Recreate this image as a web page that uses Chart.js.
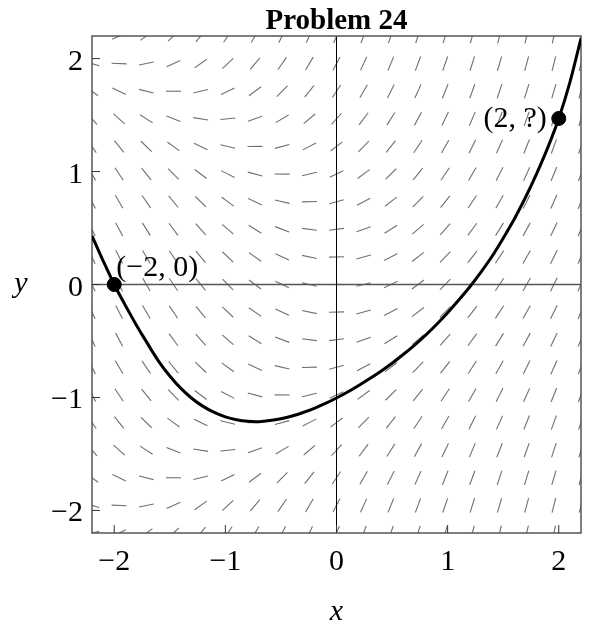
<!DOCTYPE html>
<html>
<head>
<meta charset="utf-8">
<script src="https://cdn.jsdelivr.net/npm/chart.js@4.4.1/dist/chart.umd.min.js"></script>
<style>
    html, body { margin: 0; padding: 0; background: #fff; }
    #wrap { width: 589px; height: 627px; }
</style>
</head>
<body>
<div id="wrap"><canvas id="grafico" width="589" height="627"></canvas></div>
<script>
const titulo = "Problem 24";
const xTicks = [-2, -1, 0, 1, 2];
const yTicks = [-2, -1, 0, 1, 2];

// centros de las rayitas del campo de pendientes
const xGrid = [-2.2, -1.956, -1.711, -1.467, -1.222, -0.978, -0.733, -0.489, -0.244, 0, 0.244, 0.489, 0.733, 0.978, 1.222, 1.467, 1.711, 1.956, 2.2];
const yGrid = [2.2, 1.956, 1.711, 1.467, 1.222, 0.978, 0.733, 0.489, 0.244, 0, -0.244, -0.489, -0.733, -0.978, -1.222, -1.467, -1.711, -1.956, -2.2];

// pendiente de cada rayita, fila por fila de arriba hacia abajo
const pendientes = [
    [0.22, 0.46, 0.71, 0.95, 1.20, 1.44, 1.69, 1.93, 2.18, 2.42, 2.66, 2.91, 3.15, 3.40, 3.64, 3.89, 4.13, 4.38, 4.62],
    [-0.29, -0.04, 0.20, 0.45, 0.69, 0.93, 1.18, 1.42, 1.67, 1.91, 2.16, 2.40, 2.65, 2.89, 3.13, 3.38, 3.62, 3.87, 4.11],
    [-0.74, -0.49, -0.25, 0.00, 0.24, 0.49, 0.73, 0.98, 1.22, 1.46, 1.71, 1.95, 2.20, 2.44, 2.69, 2.93, 3.18, 3.42, 3.66],
    [-1.12, -0.88, -0.64, -0.39, -0.15, 0.10, 0.34, 0.59, 0.83, 1.08, 1.32, 1.56, 1.81, 2.05, 2.30, 2.54, 2.79, 3.03, 3.28],
    [-1.45, -1.21, -0.96, -0.72, -0.48, -0.23, 0.01, 0.26, 0.50, 0.75, 0.99, 1.24, 1.48, 1.72, 1.97, 2.21, 2.46, 2.70, 2.95],
    [-1.72, -1.48, -1.23, -0.99, -0.74, -0.50, -0.26, -0.01, 0.23, 0.48, 0.72, 0.97, 1.21, 1.46, 1.70, 1.94, 2.19, 2.43, 2.68],
    [-1.93, -1.69, -1.44, -1.20, -0.95, -0.71, -0.46, -0.22, 0.02, 0.27, 0.51, 0.76, 1.00, 1.25, 1.49, 1.74, 1.98, 2.22, 2.47],
    [-2.08, -1.84, -1.59, -1.35, -1.10, -0.86, -0.61, -0.37, -0.12, 0.12, 0.36, 0.61, 0.85, 1.10, 1.34, 1.59, 1.83, 2.08, 2.32],
    [-2.17, -1.93, -1.68, -1.44, -1.19, -0.95, -0.70, -0.46, -0.21, 0.03, 0.27, 0.52, 0.76, 1.01, 1.25, 1.50, 1.74, 1.99, 2.23],
    [-2.20, -1.96, -1.71, -1.47, -1.22, -0.98, -0.73, -0.49, -0.24, 0.00, 0.24, 0.49, 0.73, 0.98, 1.22, 1.47, 1.71, 1.96, 2.20],
    [-2.17, -1.93, -1.68, -1.44, -1.19, -0.95, -0.70, -0.46, -0.21, 0.03, 0.27, 0.52, 0.76, 1.01, 1.25, 1.50, 1.74, 1.99, 2.23],
    [-2.08, -1.84, -1.59, -1.35, -1.10, -0.86, -0.61, -0.37, -0.12, 0.12, 0.36, 0.61, 0.85, 1.10, 1.34, 1.59, 1.83, 2.08, 2.32],
    [-1.93, -1.69, -1.44, -1.20, -0.95, -0.71, -0.46, -0.22, 0.02, 0.27, 0.51, 0.76, 1.00, 1.25, 1.49, 1.74, 1.98, 2.22, 2.47],
    [-1.72, -1.48, -1.23, -0.99, -0.74, -0.50, -0.26, -0.01, 0.23, 0.48, 0.72, 0.97, 1.21, 1.46, 1.70, 1.94, 2.19, 2.43, 2.68],
    [-1.45, -1.21, -0.96, -0.72, -0.48, -0.23, 0.01, 0.26, 0.50, 0.75, 0.99, 1.24, 1.48, 1.72, 1.97, 2.21, 2.46, 2.70, 2.95],
    [-1.12, -0.88, -0.64, -0.39, -0.15, 0.10, 0.34, 0.59, 0.83, 1.08, 1.32, 1.56, 1.81, 2.05, 2.30, 2.54, 2.79, 3.03, 3.28],
    [-0.74, -0.49, -0.25, 0.00, 0.24, 0.49, 0.73, 0.98, 1.22, 1.46, 1.71, 1.95, 2.20, 2.44, 2.69, 2.93, 3.18, 3.42, 3.66],
    [-0.29, -0.04, 0.20, 0.45, 0.69, 0.93, 1.18, 1.42, 1.67, 1.91, 2.16, 2.40, 2.65, 2.89, 3.13, 3.38, 3.62, 3.87, 4.11],
    [0.22, 0.46, 0.71, 0.95, 1.20, 1.44, 1.69, 1.93, 2.18, 2.42, 2.66, 2.91, 3.15, 3.40, 3.64, 3.89, 4.13, 4.38, 4.62]
];

// curva solucion
const curvaX = [-2.2, -2.1, -2.0, -1.9, -1.8, -1.7, -1.6, -1.5, -1.4, -1.3, -1.2, -1.1, -1.0, -0.9, -0.8, -0.7, -0.6, -0.5, -0.4, -0.3, -0.2, -0.1, 0, 0.1, 0.2, 0.3, 0.4, 0.5, 0.6, 0.7, 0.8, 0.9, 1.0, 1.1, 1.2, 1.3, 1.4, 1.5, 1.6, 1.7, 1.8, 1.9, 2.0, 2.1, 2.2];
const curvaY = [0.43, 0.21, 0, -0.185, -0.36, -0.525, -0.68, -0.81, -0.92, -1.009, -1.079, -1.133, -1.172, -1.197, -1.211, -1.214, -1.205, -1.188, -1.164, -1.133, -1.096, -1.053, -1.005, -0.952, -0.894, -0.833, -0.768, -0.697, -0.62, -0.538, -0.45, -0.354, -0.25, -0.138, -0.02, 0.11, 0.25, 0.41, 0.58, 0.77, 0.98, 1.21, 1.47, 1.79, 2.18];

// puntos marcados y sus etiquetas
const puntosX = [-2, 2];
const puntosY = [0, 1.47];
const puntosTexto = ["(\u22122, 0)", "(2, ?)"];

const fuente = '"Liberation Serif", "Times New Roman", serif';
const menos = (v) => (v < 0 ? "\u2212" + Math.abs(v) : String(v));

const dibujoPlugin = {
    id: "dibujo",
    beforeDatasetsDraw(chart) {
        const { ctx, chartArea: a } = chart;
        const xs = chart.scales.x;
        const ys = chart.scales.y;

        // campo de pendientes
        ctx.save();
        ctx.beginPath();
        ctx.rect(a.left, a.top, a.right - a.left, a.bottom - a.top);
        ctx.clip();
        ctx.strokeStyle = "#707070";
        ctx.lineWidth = 1.1;
        const media = 7.5;
        yGrid.forEach((yv, i) => {
            xGrid.forEach((xv, j) => {
                const s = pendientes[i][j];
                const cx = xs.getPixelForValue(xv);
                const cy = ys.getPixelForValue(yv);
                const dx = xs.getPixelForValue(xv + 1) - cx;
                const dy = ys.getPixelForValue(yv + s) - cy;
                const n = Math.hypot(dx, dy);
                const ux = (dx / n) * media;
                const uy = (dy / n) * media;
                ctx.beginPath();
                ctx.moveTo(cx - ux, cy - uy);
                ctx.lineTo(cx + ux, cy + uy);
                ctx.stroke();
            });
        });

        // ejes x=0, y=0
        ctx.strokeStyle = "#555";
        ctx.lineWidth = 1.5;
        ctx.beginPath();
        ctx.moveTo(a.left, ys.getPixelForValue(0));
        ctx.lineTo(a.right, ys.getPixelForValue(0));
        ctx.stroke();
        ctx.strokeStyle = "#000";
        ctx.lineWidth = 1;
        ctx.beginPath();
        ctx.moveTo(xs.getPixelForValue(0), a.top);
        ctx.lineTo(xs.getPixelForValue(0), a.bottom);
        ctx.stroke();
        ctx.restore();

        // marco y marcas
        ctx.save();
        ctx.strokeStyle = "#555";
        ctx.lineWidth = 1.5;
        ctx.strokeRect(a.left, a.top, a.right - a.left, a.bottom - a.top);
        ctx.lineWidth = 1;
        ctx.strokeStyle = "#333";
        xTicks.forEach((v) => {
            const px = xs.getPixelForValue(v);
            ctx.beginPath();
            ctx.moveTo(px, a.bottom);
            ctx.lineTo(px, a.bottom - 8);
            ctx.stroke();
        });
        yTicks.forEach((v) => {
            const py = ys.getPixelForValue(v);
            ctx.beginPath();
            ctx.moveTo(a.left, py);
            ctx.lineTo(a.left + 8, py);
            ctx.stroke();
        });

        // textos de los ejes
        ctx.fillStyle = "#000";
        ctx.font = "30px " + fuente;
        ctx.textBaseline = "alphabetic";
        ctx.textAlign = "center";
        xTicks.forEach((v) => {
            ctx.fillText(menos(v), xs.getPixelForValue(v), 570);
        });
        ctx.textAlign = "right";
        yTicks.forEach((v) => {
            ctx.fillText(menos(v), a.left - 9, ys.getPixelForValue(v) + 11);
        });
        ctx.font = "italic 30px " + fuente;
        ctx.textAlign = "center";
        ctx.fillText("x", xs.getPixelForValue(0), 620);
        ctx.fillText("y", 21, 292);
        ctx.font = "bold 29px " + fuente;
        ctx.fillText(titulo, xs.getPixelForValue(0), 29);
        ctx.restore();
    },
    afterDatasetsDraw(chart) {
        const { ctx } = chart;
        const xs = chart.scales.x;
        const ys = chart.scales.y;
        ctx.save();
        ctx.fillStyle = "#000";
        ctx.font = "30px " + fuente;
        ctx.textBaseline = "alphabetic";
        // (-2, 0) arriba a la derecha, (2, ?) a la izquierda
        ctx.textAlign = "left";
        ctx.fillText(puntosTexto[0], xs.getPixelForValue(puntosX[0]) + 2, ys.getPixelForValue(puntosY[0]) - 9);
        ctx.textAlign = "right";
        ctx.fillText(puntosTexto[1], xs.getPixelForValue(puntosX[1]) - 12, ys.getPixelForValue(puntosY[1]) + 9);
        ctx.restore();
    }
};

const ctx = document.getElementById("grafico").getContext("2d");

new Chart(ctx, {
    type: "scatter",
    data: {
        datasets: [
            {
                data: curvaX.map((x, i) => ({ x, y: curvaY[i] })),
                showLine: true,
                borderColor: "#000",
                borderWidth: 3,
                tension: 0.3,
                pointRadius: 0,
                fill: false,
            },
            {
                data: puntosX.map((x, i) => ({ x, y: puntosY[i] })),
                backgroundColor: "#000",
                borderColor: "#000",
                pointRadius: 7,
                clip: false,
            },
        ],
    },
    options: {
        responsive: false,
        animation: false,
        layout: { padding: { left: 92, right: 1, top: 36, bottom: 94 } },
        scales: {
            x: { type: "linear", min: -2.2, max: 2.2, display: false },
            y: { type: "linear", min: -2.2, max: 2.2, display: false },
        },
        plugins: {
            legend: { display: false },
            tooltip: { enabled: false },
            title: { display: false },
        },
    },
    plugins: [dibujoPlugin],
});
</script>
</body>
</html>
